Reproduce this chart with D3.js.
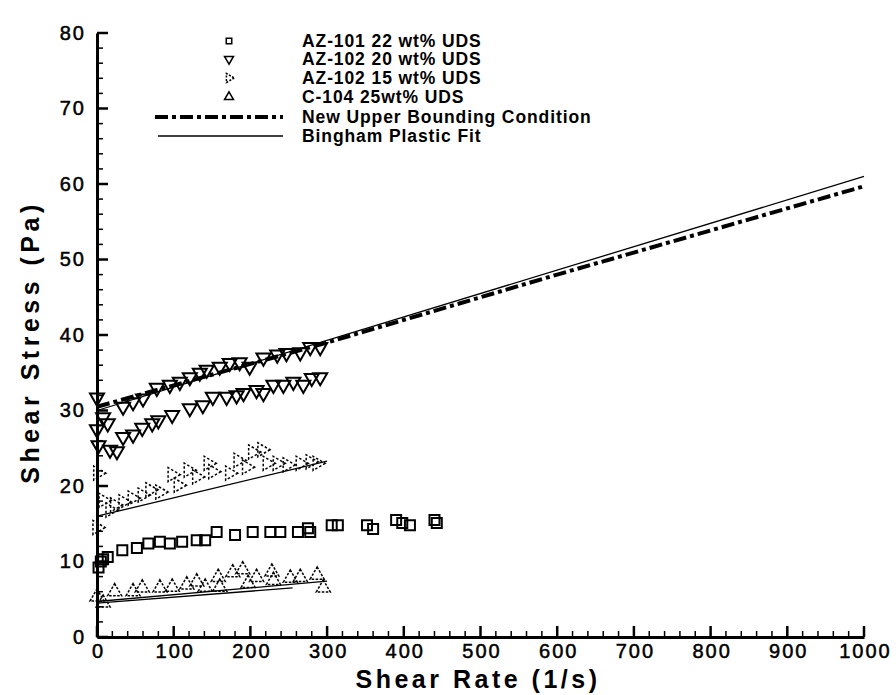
<!DOCTYPE html>
<html>
<head>
<meta charset="utf-8">
<script src="https://cdn.jsdelivr.net/npm/d3@7"></script>
<style>
body { margin: 0; background: #fff; }
text { font-family: "Liberation Sans", Arial, sans-serif; }
</style>
</head>
<body>
<div id="canvas"></div>
<script>
// shear rate (1/s), shear stress (Pa)
const az101_22 = [[2,9.2],[5,10.0],[8,10.3],[14,10.6],[33,11.5],[52,11.8],[67,12.4],[82,12.6],[95,12.4],[111,12.6],[130,12.8],[141,12.8],[156,13.9],[180,13.5],[203,13.9],[226,13.9],[239,13.9],[262,13.9],[275,14.4],[278,13.9],[306,14.8],[314,14.8],[352,14.8],[360,14.3],[390,15.5],[398,15.1],[408,14.8],[443,15.1],[440,15.5]];
const az102_20 = [[0,31.7],[8,29.1],[14,28.3],[34,30.5],[47,31.1],[60,31.6],[78,33],[95,33.4],[108,33.8],[121,34.4],[134,35],[143,35.4],[160,35.8],[173,36.3],[186,36.4],[199,35.8],[217,37],[235,37.4],[247,37.6],[265,37.7],[278,38.4],[291,38.4],
  [0,27.5],[2,25.4],[17,24.8],[26,24.6],[34,26.5],[47,26.8],[59,27.7],[72,28.3],[80,28.7],[98,29.4],[121,30.3],[138,30.7],[151,31.8],[169,31.8],[182,32],[191,32.3],[208,32.7],[217,32.3],[230,33.4],[243,33.4],[256,33.8],[269,33.4],[280,34.3],[291,34.4]];
const az102_15 = [[1,21.7],[0,14.5],[8,18.1],[17,16.8],[23,17.5],[34,17.9],[46,18.4],[59,18.8],[69,19.5],[82,19.2],[98,21.5],[106,20.1],[119,22.1],[130,21.2],[145,23],[151,21.9],[173,21.7],[184,23.4],[195,22.5],[203,24.5],[215,24.8],[222,23],[235,23],[248,22.8],[265,23],[278,23.2],[287,23]];
const c104_25 = [[0,5.3],[8,4.5],[23,6],[47,6],[59,6.5],[82,6.5],[98,6.6],[117,6.9],[130,7.3],[141,6.6],[158,7.9],[160,6.6],[177,8.5],[190,8.9],[197,7.1],[208,7.9],[228,8.6],[230,7.5],[252,7.8],[265,7.9],[287,8.2],[295,6.5]];
const upperBound = [[0,30.5],[300,39],[600,48],[1000,59.7]];
const binghamFits = [
  [[0,30],[1000,61]],
  [[0,16],[300,23.3]],
  [[0,4.7],[300,7.4]],
  [[0,4.5],[255,6.5]]
];
const legendLabels = ['AZ-101 22 wt% UDS','AZ-102 20 wt% UDS','AZ-102 15 wt% UDS','C-104 25wt% UDS','New Upper Bounding Condition','Bingham Plastic Fit'];
const xTicks = [0,100,200,300,400,500,600,700,800,900,1000];
const yTicks = [0,10,20,30,40,50,60,70,80];

const width = 896;
const height = 695;

const svg = d3.select('#canvas').append('svg')
  .attr('width', width)
  .attr('height', height)

const xScale = d3.scaleLinear().domain([0,1000]).range([97,864])
const yScale = d3.scaleLinear().domain([0,80]).range([637,33])

const line = d3.line().x(d => xScale(d[0])).y(d => yScale(d[1]))

// fits and bounding line
binghamFits.forEach(f => {
  svg.append('path').attr('d', line(f)).attr('fill','none').attr('stroke','#000').attr('stroke-width',1.3)
})
svg.append('path').attr('d', line(upperBound)).attr('fill','none').attr('stroke','#000')
  .attr('stroke-width',4).attr('stroke-dasharray','13,4,4,4')

// markers
const sq = d3.symbol().type(d3.symbolSquare).size(100)
const tri = d3.symbol().type(d3.symbolTriangle).size(85)

function drawPts(data, path, rot, sw, dash) {
  svg.append('g').selectAll('path').data(data).join('path')
    .attr('d', path)
    .attr('transform', d => `translate(${xScale(d[0])},${yScale(d[1])}) rotate(${rot})`)
    .attr('fill','none').attr('stroke','#000').attr('stroke-width',sw)
    .attr('stroke-dasharray', dash)
}
drawPts(az101_22, sq, 0, 2, null)
drawPts(az102_20, tri, 180, 2, null)
drawPts(az102_15, tri, 90, 1.5, '2.5,2')
drawPts(c104_25, tri, 0, 1.5, '2.5,1.5')

// axes
const xAxis = d3.axisBottom(xScale).tickValues(xTicks).tickFormat(d3.format('d')).tickSize(0).tickPadding(7)
const yAxis = d3.axisLeft(yScale).tickValues(yTicks).tickFormat(d3.format('d')).tickSize(0).tickPadding(11)

const gx = svg.append('g').attr('transform', `translate(0,${yScale(0)})`).call(xAxis)
const gy = svg.append('g').attr('transform', `translate(${xScale(0)},0)`).call(yAxis)
;[gx, gy].forEach(g => {
  g.select('.domain').attr('stroke','#000').attr('stroke-width',3)
  g.selectAll('text').attr('font-size',20).attr('fill','#000').attr('letter-spacing',2)
    .attr('stroke','#000').attr('stroke-width',0.5)
})
gx.selectAll('text').attr('dx', 1)

// inward ticks
svg.append('g').selectAll('line').data(d3.range(0,1001,20)).join('line')
  .attr('x1', d => xScale(d)).attr('x2', d => xScale(d))
  .attr('y1', yScale(0)).attr('y2', d => yScale(0) - (d % 100 === 0 ? 11 : 6))
  .attr('stroke','#000').attr('stroke-width', d => d % 100 === 0 ? 2.5 : 1.5)
svg.append('g').selectAll('line').data(d3.range(0,81,2)).join('line')
  .attr('y1', d => yScale(d)).attr('y2', d => yScale(d))
  .attr('x1', xScale(0)).attr('x2', d => xScale(0) + (d % 10 === 0 ? 11 : 6))
  .attr('stroke','#000').attr('stroke-width', d => d % 10 === 0 ? 2.5 : 1.5)

// axis titles
svg.append('text').attr('x', 478).attr('y', 688).attr('text-anchor','middle')
  .attr('font-size',25).attr('font-weight','bold').attr('letter-spacing',3.5).text('Shear Rate (1/s)')
svg.append('text').attr('transform','translate(39,342) rotate(-90)').attr('text-anchor','middle')
  .attr('font-size',25).attr('font-weight','bold').attr('letter-spacing',4.5).text('Shear Stress (Pa)')

// legend
const ly = [41,59,78,97,117,136]
const leg = svg.append('g')
legendLabels.forEach((t,i) => {
  leg.append('text').attr('x',302).attr('y',ly[i]+6).attr('font-size',17.5).attr('font-weight','bold')
    .attr('letter-spacing',0.9).text(t)
})
leg.append('path').attr('d', d3.symbol().type(d3.symbolSquare).size(30)).attr('transform',`translate(229,${ly[0]})`)
  .attr('fill','none').attr('stroke','#000').attr('stroke-width',1.5)
leg.append('path').attr('d', d3.symbol().type(d3.symbolTriangle).size(35)).attr('transform',`translate(229,${ly[1]}) rotate(180)`)
  .attr('fill','none').attr('stroke','#000').attr('stroke-width',1.5)
leg.append('path').attr('d', d3.symbol().type(d3.symbolTriangle).size(35)).attr('transform',`translate(229,${ly[2]}) rotate(90)`)
  .attr('fill','none').attr('stroke','#000').attr('stroke-width',1.5).attr('stroke-dasharray','2,1.5')
leg.append('path').attr('d', d3.symbol().type(d3.symbolTriangle).size(35)).attr('transform',`translate(229,${ly[3]})`)
  .attr('fill','none').attr('stroke','#000').attr('stroke-width',1.5)
leg.append('line').attr('x1',155).attr('x2',283).attr('y1',ly[4]).attr('y2',ly[4])
  .attr('stroke','#000').attr('stroke-width',4).attr('stroke-dasharray','13,4,4,4')
leg.append('line').attr('x1',158).attr('x2',283).attr('y1',ly[5]).attr('y2',ly[5])
  .attr('stroke','#000').attr('stroke-width',1.3)
</script>
</body>
</html>
